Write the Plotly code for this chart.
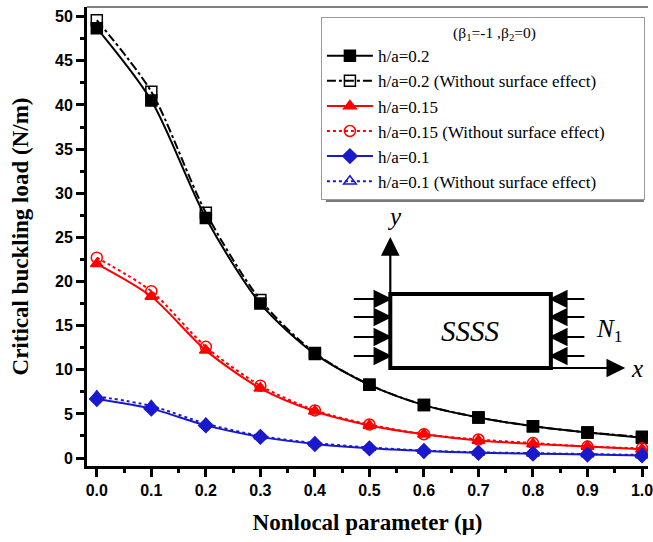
import plotly.graph_objects as go

# ---------------- data ----------------
mu = [0.0, 0.1, 0.2, 0.3, 0.4, 0.5, 0.6, 0.7, 0.8, 0.9, 1.0]
ha02 = [48.7, 40.5, 27.2, 17.5, 11.8, 8.3, 6.0, 4.6, 3.6, 2.9, 2.3]
ha02_ns = [49.6, 41.5, 27.8, 17.9, 11.9, 8.3, 6.0, 4.6, 3.6, 2.9, 2.4]
ha015 = [22.0, 18.3, 12.2, 7.9, 5.3, 3.7, 2.7, 2.0, 1.6, 1.3, 1.0]
ha015_ns = [22.7, 18.9, 12.6, 8.2, 5.4, 3.8, 2.7, 2.1, 1.7, 1.3, 1.1]
ha01 = [6.7, 5.6, 3.7, 2.4, 1.6, 1.1, 0.8, 0.6, 0.5, 0.4, 0.3]
ha01_ns = [7.0, 5.9, 3.9, 2.5, 1.7, 1.2, 0.85, 0.65, 0.55, 0.45, 0.35]
x_ticks = [0.0, 0.1, 0.2, 0.3, 0.4, 0.5, 0.6, 0.7, 0.8, 0.9, 1.0]
y_ticks = [0, 5, 10, 15, 20, 25, 30, 35, 40, 45, 50]

BLACK = "#000000"
RED = "#FF0000"
BLUE = "#1A1ACC"

W, H = 653, 542
L, R, T, B = 87, 0, 7, 76
PW, PH = W - L - R, H - T - B


def px(x):
    return (x - L) / PW


def py(y):
    return (H - B - y) / PH


fig = go.Figure()

PAD = "\u00a0" * 8
series = [
    ("h/a=0.2", ha02, BLACK, "solid", "square", BLACK),
    ("h/a=0.2 (Without surface effect)", ha02_ns, BLACK, "dashdot", "square-open", BLACK),
    ("h/a=0.15", ha015, RED, "solid", "triangle-up", RED),
    ("h/a=0.15 (Without surface effect)" + PAD, ha015_ns, RED, "dot", "circle-open", RED),
    ("h/a=0.1", ha01, BLUE, "solid", "diamond", BLUE),
    ("h/a=0.1 (Without surface effect)", ha01_ns, BLUE, "dot", "triangle-up-open", BLUE),
]
for name, ys, col, dash, sym, mcol in series:
    fig.add_trace(go.Scatter(
        x=mu, y=ys, name=name, mode="lines+markers",
        line=dict(color=col, width=2, dash=dash, shape="spline", smoothing=0.8),
        marker=dict(symbol=sym, size=11, color=mcol,
                    line=dict(color=mcol, width=1.5)),
    ))

shapes = []
# top thin frame line
shapes.append(dict(type="line", xref="paper", yref="paper", x0=0, x1=1, y0=1, y1=1,
                   line=dict(color="black", width=1)))
# legend shadow
shapes.append(dict(type="rect", xref="paper", yref="paper",
                   x0=px(328), x1=px(649), y0=py(202), y1=py(22),
                   fillcolor="#7a7a7a", line=dict(width=0), layer="above"))
# inset rectangle
shapes.append(dict(type="rect", xref="paper", yref="paper",
                   x0=px(393), x1=px(555), y0=py(368), y1=py(294),
                   fillcolor="white", line=dict(color="black", width=4), layer="above"))

annotations = []


def arrow(x_tip, y_tip, x_tail, y_tail):
    annotations.append(dict(
        xref="paper", yref="paper", x=px(x_tip), y=py(y_tip),
        axref="pixel", ayref="pixel", ax=x_tail - x_tip, ay=y_tail - y_tip,
        showarrow=True, arrowhead=2, arrowsize=1.7, arrowwidth=2.2,
        arrowcolor="black", text=""))


arrow(393, 237, 393, 294)
arrow(630, 368, 555, 368)
for yy in [299, 317, 337, 356]:
    arrow(395, yy, 355, yy)
    arrow(553, yy, 590, yy)

ital = dict(family="Liberation Serif", size=25, color="black")
annotations += [
    dict(xref="paper", yref="paper", x=px(397), y=py(216), text="<i>y</i>",
         xanchor="center", yanchor="middle", showarrow=False, font=ital),
    dict(xref="paper", yref="paper", x=px(642), y=py(368), text="<i>x</i>",
         xanchor="center", yanchor="middle", showarrow=False, font=ital),
    dict(xref="paper", yref="paper", x=px(474), y=py(331), text="<i>SSSS</i>",
         xanchor="center", yanchor="middle", showarrow=False,
         font=dict(family="Liberation Serif", size=29, color="black")),
    dict(xref="paper", yref="paper", x=px(614), y=py(330), text="<i>N</i><sub>1</sub>",
         xanchor="center", yanchor="middle", showarrow=False, font=ital),
]

tickfont = dict(family="Liberation Sans", size=16, color="black", weight="bold")
fig.update_layout(
    width=W, height=H,
    margin=dict(l=L, r=R, t=T, b=B),
    plot_bgcolor="white", paper_bgcolor="white",
    shapes=shapes, annotations=annotations,
    xaxis=dict(range=[-0.018, 1.011], tickvals=x_ticks,
               ticktext=[f"{v:.1f}" for v in x_ticks], ticklabeloverflow="allow",
               showline=True, linecolor="black", linewidth=3,
               ticks="outside", ticklen=8, tickwidth=2.5, tickcolor="black",
               minor=dict(dtick=0.05, tick0=0, ticks="outside", ticklen=4,
                          tickwidth=2.5, tickcolor="black"),
               showgrid=False, zeroline=False, tickfont=tickfont,
               title=dict(text="<b>Nonlocal parameter (μ)</b>", standoff=16,
                          font=dict(family="Liberation Serif", size=23, color="black"))),
    yaxis=dict(range=[-0.9, 51.1], tickvals=y_ticks,
               showline=True, linecolor="black", linewidth=3,
               ticks="outside", ticklen=8, tickwidth=2.5, tickcolor="black",
               minor=dict(dtick=2.5, tick0=0, ticks="outside", ticklen=4,
                          tickwidth=2.5, tickcolor="black"),
               showgrid=False, zeroline=False, tickfont=tickfont,
               title=dict(text="<b>Critical buckling load (N/m)</b>", standoff=20,
                          font=dict(family="Liberation Serif", size=23, color="black"))),
    legend=dict(x=px(323), y=py(17), xanchor="left", yanchor="top",
                bgcolor="white", bordercolor="#999999", borderwidth=1,
                font=dict(family="Liberation Serif", size=17, color="black"),
                title=dict(text="\u00a0" * 6 + "(β<sub>1</sub>=-1 ,β<sub>2</sub>=0)",
                           side="top center",
                           font=dict(family="Liberation Serif", size=15.5, color="black")),
                tracegroupgap=0, itemwidth=46),
    showlegend=True,
)

fig.write_html("out.html")
